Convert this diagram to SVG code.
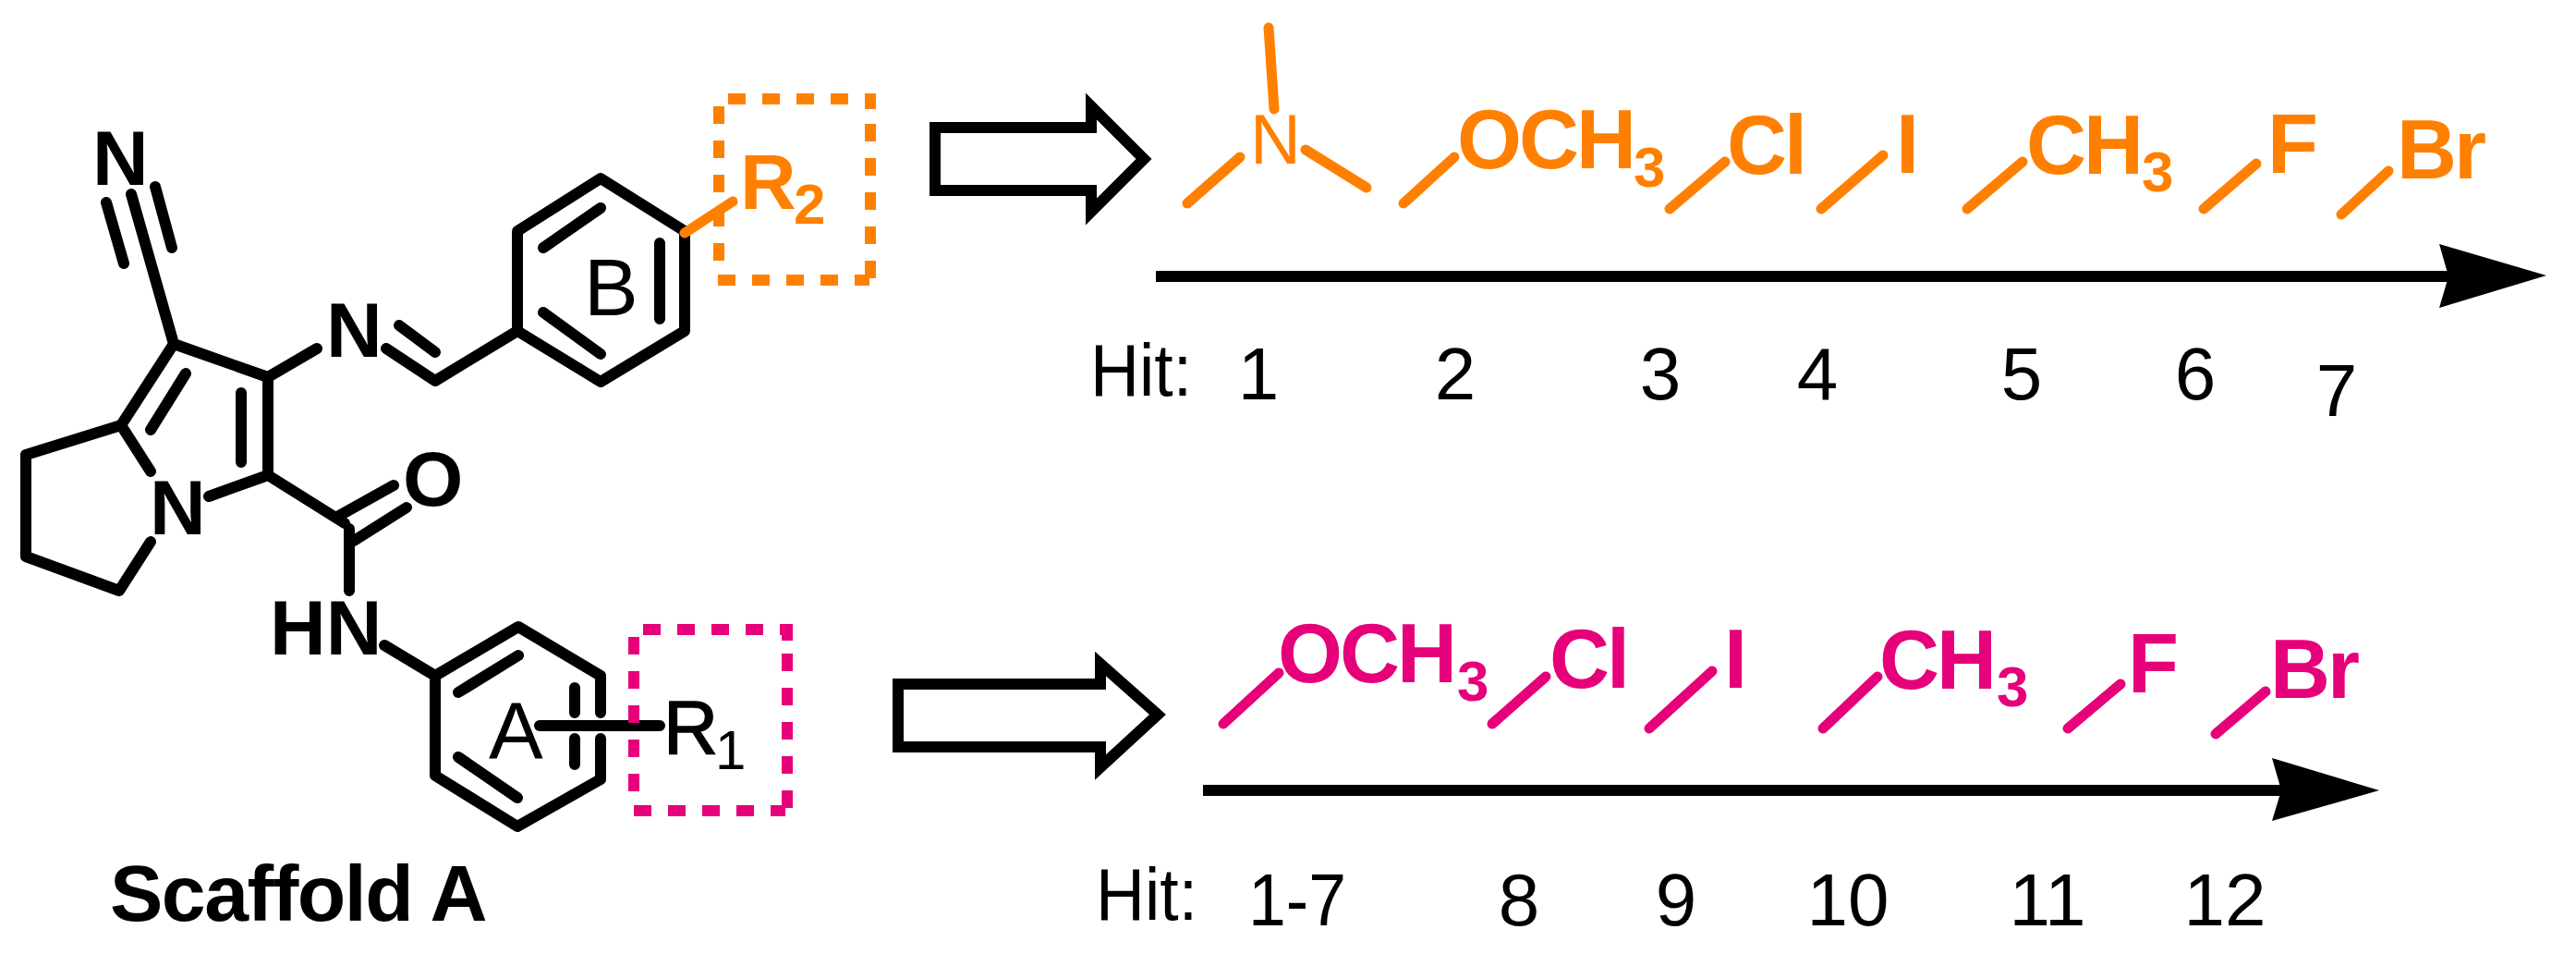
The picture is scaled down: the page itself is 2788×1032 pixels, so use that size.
<svg xmlns="http://www.w3.org/2000/svg" width="2788" height="1032" viewBox="0 0 2788 1032">
<style>
text{font-family:"Liberation Sans",Arial,sans-serif;fill:#000}
.b{fill:none;stroke:#000;stroke-width:12;stroke-linecap:round;stroke-linejoin:round}
.o{fill:none;stroke:#FF8000;stroke-width:11;stroke-linecap:round}
.p{fill:none;stroke:#E6007A;stroke-width:11;stroke-linecap:round}
.lb{font-size:84px;font-weight:700}
.lr{font-size:88px}
.sb{font-size:90px;font-weight:700;letter-spacing:-3px}
.to{fill:#FF8000}
.tp{fill:#E6007A}
.s{font-size:62px;font-weight:700;letter-spacing:0}
.h{font-size:80px}
.bl{fill:none;stroke:#000;stroke-width:12;stroke-linejoin:miter;stroke-miterlimit:10}
.ln{stroke:#000;stroke-width:12;fill:none}
.d{fill:none;stroke-width:12;stroke-dasharray:19 18}
</style>
<rect width="2788" height="1032" fill="#fff"/>
<g id="scaffold">
<path class="b" d="M142 210L188 372M115 219L134 285M168 202L186 268M188 372L290 408L290 514M188 372L131 460M201 404L163 465M261 425V500M290 408L343 377M418 377L471 412L560 358M432 352L471 381"/>
<path class="b" d="M560 358V250L650 193L741 250V358L650 413ZM588 268L650 225M714 263V345M588 338L650 383"/>
<path class="b" d="M131 460L163 510M131 460L28 492V602L129 639L163 586M290 514L226 537M290 514L373 566M365 559L426 525M383 585L440 549M378 572V639M416 698L471 731"/>
<path class="b" d="M650 771V731L561 678L471 731V839L560 894L650 843V799M561 709L496 749M622 744V771M622 799V827M496 819L560 863M584 785H714"/>
<text class="lb" x="100" y="200">N</text>
<text class="lb" x="353" y="386">N</text>
<text class="lb" x="162" y="578">N</text>
<text class="lb" x="436" y="547">O</text>
<text class="lb" x="292" y="708">HN</text>
<text class="lr" x="632" y="341">B</text>
<text class="lr" x="529" y="821">A</text>
<text x="718" y="815" style="font-size:82px;stroke:#000;stroke-width:1.5">R<tspan style="font-size:60px;stroke-width:0" x="774" y="832">1</tspan></text>
<text class="lb" x="119" y="996" style="font-size:86px;letter-spacing:-1.5px">Scaffold A</text>
</g>
<g id="r2-site">
<path class="d" stroke="#FF8000" d="M788 107H947M942 101V118M942 134V303M777 303H941M778 115V285"/>
<path class="o" d="M741 252L793 218"/>
<text class="lb to" x="801" y="226">R<tspan class="s to" x="859" y="242">2</tspan></text>
</g>
<g id="r1-site">
<path class="d" stroke="#E6007A" d="M696 681H858M852 675V693M852 707V877M686 877H850M686 689V859"/>
</g>
<g id="connectors">
<path class="bl" d="M1181 138H1012V206H1181V229L1238 172L1181 115Z"/>
<path class="ln" d="M1251 299H2655"/>
<path d="M2640 264L2756 298L2640 333L2650 299Z"/>
<path class="bl" d="M1191 740H972V808H1191V830L1253 773L1191 718Z"/>
<path class="ln" d="M1302 855H2475"/>
<path d="M2459 820L2575 855L2459 888L2469 855Z"/>
</g>
<g id="r2-series">
<g id="r2-nme2"><path class="o" d="M1373 30L1379 118M1285 220L1342 170M1413 162L1479 203"/><text class="to" x="1353" y="177" style="font-size:76px">N</text></g>
<g id="r2-och3"><path class="o" d="M1519 220L1574 170"/><text class="sb to" x="1577" y="182">OCH<tspan class="s to" x="1768" y="202">3</tspan></text></g>
<g id="r2-cl"><path class="o" d="M1807 226L1867 175"/><text class="sb to" x="1869" y="188">Cl</text></g>
<g id="r2-i"><path class="o" d="M1971 226L2038 168"/><text class="sb to" x="2052" y="187">I</text></g>
<g id="r2-ch3"><path class="o" d="M2129 226L2189 175"/><text class="sb to" x="2193" y="188">CH<tspan class="s to" x="2318" y="207">3</tspan></text></g>
<g id="r2-f"><path class="o" d="M2385 226L2442 177"/><text class="sb to" x="2454" y="187">F</text></g>
<g id="r2-br"><path class="o" d="M2534 232L2585 185"/><text class="sb to" x="2594" y="193">Br</text></g>
</g>
<g id="r2-hits">
<text class="h" x="1180" y="428" textLength="110" lengthAdjust="spacingAndGlyphs">Hit:</text>
<g text-anchor="middle">
<text class="h" x="1362" y="432">1</text><text class="h" x="1575" y="432">2</text><text class="h" x="1797" y="432">3</text><text class="h" x="1967" y="432">4</text><text class="h" x="2188" y="432">5</text><text class="h" x="2376" y="432">6</text><text class="h" x="2529" y="450">7</text>
</g>
</g>
<g id="r1-series">
<g id="r1-och3"><path class="p" d="M1324 783L1384 728"/><text class="sb tp" x="1383" y="738">OCH<tspan class="s tp" x="1577" y="758">3</tspan></text></g>
<g id="r1-cl"><path class="p" d="M1615 783L1673 732"/><text class="sb tp" x="1677" y="744">Cl</text></g>
<g id="r1-i"><path class="p" d="M1785 788L1853 726"/><text class="sb tp" x="1866" y="744">I</text></g>
<g id="r1-ch3"><path class="p" d="M1973 788L2032 732"/><text class="sb tp" x="2034" y="745">CH<tspan class="s tp" x="2161" y="764">3</tspan></text></g>
<g id="r1-f"><path class="p" d="M2238 788L2295 740"/><text class="sb tp" x="2303" y="749">F</text></g>
<g id="r1-br"><path class="p" d="M2398 794L2452 748"/><text class="sb tp" x="2457" y="755">Br</text></g>
</g>
<g id="r1-hits">
<text class="h" x="1186" y="995" textLength="110" lengthAdjust="spacingAndGlyphs">Hit:</text>
<text class="h" x="1351" y="1001" textLength="106" lengthAdjust="spacingAndGlyphs">1-7</text>
<g text-anchor="middle">
<text class="h" x="1644" y="1001">8</text><text class="h" x="1814" y="1001">9</text><text class="h" x="2000" y="1001">10</text><text class="h" x="2216" y="1001">11</text><text class="h" x="2408" y="1001">12</text>
</g>
</g>
</svg>
